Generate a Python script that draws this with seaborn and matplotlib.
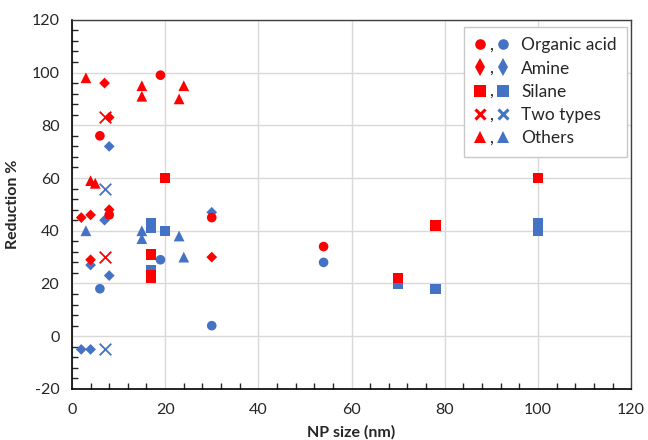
import seaborn as sns
import matplotlib.pyplot as plt
from matplotlib.lines import Line2D
from matplotlib.text import Text
from matplotlib.legend_handler import HandlerBase
from matplotlib.ticker import MultipleLocator

# red series
red_acid_x = [6, 19, 8, 30, 54]
red_acid_y = [76, 99, 46, 45, 34]
red_amine_x = [7, 8, 2, 4, 8, 4, 30]
red_amine_y = [96, 83, 45, 46, 48, 29, 30]
red_silane_x = [20, 17, 17, 17, 70, 78, 100]
red_silane_y = [60, 31, 23, 22, 22, 42, 60]
red_two_x = [7, 7]
red_two_y = [83, 30]
red_other_x = [3, 15, 15, 23, 24, 4, 5]
red_other_y = [98, 95, 91, 90, 95, 59, 58]

# blue series
blue_acid_x = [6, 19, 30, 54]
blue_acid_y = [18, 29, 4, 28]
blue_amine_x = [8, 7, 4, 8, 2, 4, 30]
blue_amine_y = [72, 44, 27, 23, -5, -5, 47]
blue_silane_x = [17, 17, 20, 17, 70, 78, 100, 100]
blue_silane_y = [43, 41, 40, 25, 20, 18, 43, 40]
blue_two_x = [7, 7]
blue_two_y = [56, -5]
blue_other_x = [3, 15, 15, 23, 24]
blue_other_y = [40, 40, 37, 38, 30]

groups = ['Organic acid', 'Amine', 'Silane', 'Two types', 'Others']
markers = ['o', 'D', 's', 'x', '^']
sizes = [48, 30, 55, 70, 60]

RED = '#FF0000'
BLUE = '#4472C4'


class PairHandler(HandlerBase):
    # red marker, comma, blue marker
    def create_artists(self, legend, orig_handle, xdescent, ydescent,
                       width, height, fontsize, trans):
        r, b = orig_handle
        yc = height / 2 - ydescent
        out = []
        for h, fx in [(r, 0.14), (b, 0.66)]:
            ln = Line2D([fx * width - xdescent], [yc])
            ln.update_from(h)
            ln.set_transform(trans)
            out.append(ln)
        t = Text(0.38 * width - xdescent, -ydescent + 0.5, ',', fontsize=fontsize,
                 ha='center', va='baseline', color='#222222', transform=trans)
        out.append(t)
        return out


sns.set_style('white')
plt.rcParams['font.family'] = ['Lato', 'DejaVu Sans']
plt.rcParams['axes.unicode_minus'] = False

fig, ax = plt.subplots(figsize=(6.48, 4.40), dpi=100)
fig.subplots_adjust(left=0.111, right=0.974, bottom=0.116, top=0.955)

blue = [(blue_acid_x, blue_acid_y), (blue_amine_x, blue_amine_y), (blue_silane_x, blue_silane_y),
        (blue_two_x, blue_two_y), (blue_other_x, blue_other_y)]
red = [(red_acid_x, red_acid_y), (red_amine_x, red_amine_y), (red_silane_x, red_silane_y),
       (red_two_x, red_two_y), (red_other_x, red_other_y)]

for col, series in [(BLUE, blue), (RED, red)]:
    for (xs, ys), m, s in zip(series, markers, sizes):
        if m == 'x':
            sns.scatterplot(x=xs, y=ys, marker=m, s=s, color=col, linewidth=1.3, ax=ax, legend=False, zorder=3)
        else:
            sns.scatterplot(x=xs, y=ys, marker=m, s=s, color=col, edgecolor='none', ax=ax, legend=False, zorder=3)

ax.set_xlim(0, 120)
ax.set_ylim(-20, 120)
ax.set_xticks(range(0, 121, 20))
ax.set_yticks(range(-20, 121, 20))
ax.xaxis.set_minor_locator(MultipleLocator(4))
ax.yaxis.set_minor_locator(MultipleLocator(4))
ax.grid(True, which='major', color='#d9d9d9', linewidth=1)
ax.set_axisbelow(True)

ax.tick_params(axis='x', which='major', direction='inout', length=8, width=1, labelsize=11.5, pad=6)
ax.tick_params(axis='x', which='minor', direction='in', length=4, width=1, bottom=True)
ax.tick_params(axis='y', which='major', direction='out', length=5, width=1, labelsize=11.5, pad=4)
ax.tick_params(axis='y', which='minor', direction='in', length=4, width=1, left=True)

for sp in ['left', 'bottom']:
    ax.spines[sp].set_color('black')
    ax.spines[sp].set_linewidth(1.2)
for sp in ['top', 'right']:
    ax.spines[sp].set_color('#404040')
    ax.spines[sp].set_linewidth(1)

ax.set_xlabel('NP size (nm)', fontsize=11.5, fontweight='bold', labelpad=6)
ax.set_ylabel('Reduction %', fontsize=11.5, fontweight='bold', labelpad=8)

handles = []
for m, s in zip(markers, sizes):
    ms = (s ** 0.5) * 1.1
    if m == 'D':
        m, ms = 'd', ms * 1.45
    kw = dict(linestyle='none', marker=m, markersize=ms)
    if m == 'x':
        kw['markeredgewidth'] = 2.2
        kw['markersize'] = ms * 0.8
    else:
        kw['markeredgewidth'] = 0
    handles.append((Line2D([], [], color=RED, **kw), Line2D([], [], color=BLUE, **kw)))

leg = ax.legend(handles, groups, handler_map={tuple: PairHandler()},
                loc='upper right', bbox_to_anchor=(0.993, 0.981), borderaxespad=0,
                fontsize=12.5, frameon=True, fancybox=False, framealpha=1,
                edgecolor='#c8c8c8', handlelength=2.5, handletextpad=0.2,
                labelspacing=0.42, borderpad=0.6)
leg.get_frame().set_linewidth(1)

fig.savefig('out.png', dpi=100)
